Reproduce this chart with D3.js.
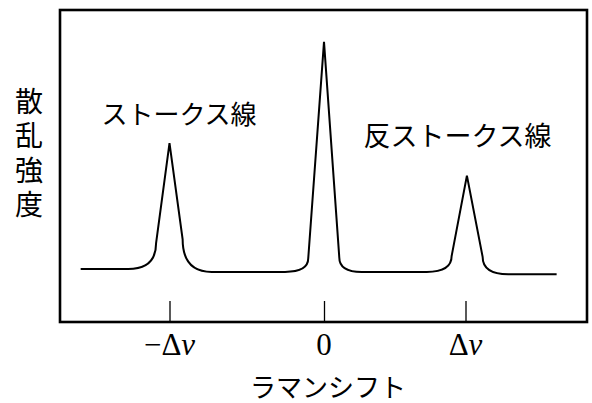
<!DOCTYPE html>
<meta charset="utf-8">
<style>
  body { margin: 0; background: #fff; }
  .jp { font-family: "Noto Sans CJK JP", "Noto Sans", sans-serif; fill: #000; }
  .tick-label { font-family: "Liberation Serif", "DejaVu Serif", serif; fill: #000; }
</style>
<script src="https://d3js.org/d3.v7.min.js"></script>
<div id="chart"></div>
<script>
// tick positions on the shift axis (units of Δν) and their labels
const shiftTicks = [-1, 0, 1];
const tickMain = ["−Δ", "0", "Δ"];
const tickItalic = ["ν", "", "ν"];

// three peaks: Stokes, Rayleigh, anti-Stokes
const peakCenter = [-1.0, 0, 1.01];
const peakHeight = [0.573, 0.898, 0.469];
const kneeLeft = [-1.087, -0.102, 0.902];
const kneeRight = [-0.915, 0.108, 1.121];
const kneeHeightLeft = [0.252, 0.204, 0.2115];
const kneeHeightRight = [0.265, 0.207, 0.209];
const footLeft = [-1.267, -0.252, 0.726];
const footRight = [-0.727, 0.266, 1.302];
// baseline level of each flat stretch (before, between, after the peaks)
const baseLevel = [0.17, 0.1606, 0.1606, 0.153];
const baseStart = -1.575, baseEnd = 1.644;

const peakLabels = ["ストークス線", "反ストークス線"];
const yTitle = "散乱強度";
const xTitle = "ラマンシフト";

const W = 592, H = 403;
const margin = {top: 10, right: 5, bottom: 81, left: 60};

const svg = d3.select("#chart").append("svg")
    .attr("width", W)
    .attr("height", H);

// piecewise scale: the Δν ticks are not quite evenly spaced in the figure
const x = d3.scaleLinear()
    .domain(shiftTicks)
    .range([169.5, 324, 465.5]);
const y = d3.scaleLinear()
    .domain([0, 1])
    .range([H - margin.bottom, margin.top]);

// ticks pointing up from the bottom edge
const xAxis = d3.axisBottom(x)
    .tickValues(shiftTicks)
    .tickSizeInner(-21)
    .tickSizeOuter(0)
    .tickFormat("");
const gx = svg.append("g")
    .attr("transform", `translate(0,${H - margin.bottom})`)
    .call(xAxis);
gx.select(".domain").remove();
gx.selectAll(".tick line").attr("stroke", "#000").attr("stroke-width", 1.3);

// tick labels (italic nu)
shiftTicks.forEach((v, i) => {
  const t = svg.append("text")
      .attr("class", "tick-label")
      .attr("x", x(v))
      .attr("y", 355)
      .attr("text-anchor", "middle")
      .style("font-size", "31px");
  t.append("tspan").text(tickMain[i]);
  if (tickItalic[i]) t.append("tspan").style("font-style", "italic").text(tickItalic[i]);
});

// plot frame
svg.append("rect")
    .attr("x", margin.left)
    .attr("y", margin.top)
    .attr("width", W - margin.left - margin.right)
    .attr("height", H - margin.top - margin.bottom)
    .attr("fill", "none")
    .attr("stroke", "#000")
    .attr("stroke-width", 2.6);

// spectrum
const p = d3.path();
p.moveTo(x(baseStart), y(baseLevel[0]));
peakCenter.forEach((c, i) => {
  const b0 = y(baseLevel[i]), b1 = y(baseLevel[i + 1]);
  p.lineTo(x(footLeft[i]), b0);
  p.quadraticCurveTo(x(kneeLeft[i]), b0, x(kneeLeft[i]), y(kneeHeightLeft[i]));
  p.lineTo(x(c), y(peakHeight[i]));
  p.lineTo(x(kneeRight[i]), y(kneeHeightRight[i]));
  p.quadraticCurveTo(x(kneeRight[i]), b1, x(footRight[i]), b1);
});
p.lineTo(x(baseEnd), y(baseLevel[3]));

svg.append("path")
    .attr("d", p.toString())
    .attr("fill", "none")
    .attr("stroke", "#000")
    .attr("stroke-width", 2)
    .attr("stroke-linejoin", "miter");

// peak labels
svg.append("text")
    .attr("class", "jp")
    .attr("x", 179)
    .attr("y", 112)
    .attr("text-anchor", "middle")
    .attr("dominant-baseline", "central")
    .style("font-size", "26px")
    .text(peakLabels[0]);
svg.append("text")
    .attr("class", "jp")
    .attr("x", 457.5)
    .attr("y", 134)
    .attr("text-anchor", "middle")
    .attr("dominant-baseline", "central")
    .style("font-size", "27px")
    .text(peakLabels[1]);

// y title, written vertically
svg.append("text")
    .attr("class", "jp")
    .attr("x", 29)
    .attr("y", 156)
    .attr("text-anchor", "middle")
    .style("writing-mode", "vertical-rl")
    .style("letter-spacing", "6.2px")
    .style("font-size", "28px")
    .text(yTitle);

// x title
svg.append("text")
    .attr("class", "jp")
    .attr("x", 328)
    .attr("y", 385)
    .attr("text-anchor", "middle")
    .attr("dominant-baseline", "central")
    .style("font-size", "26px")
    .text(xTitle);
</script>
